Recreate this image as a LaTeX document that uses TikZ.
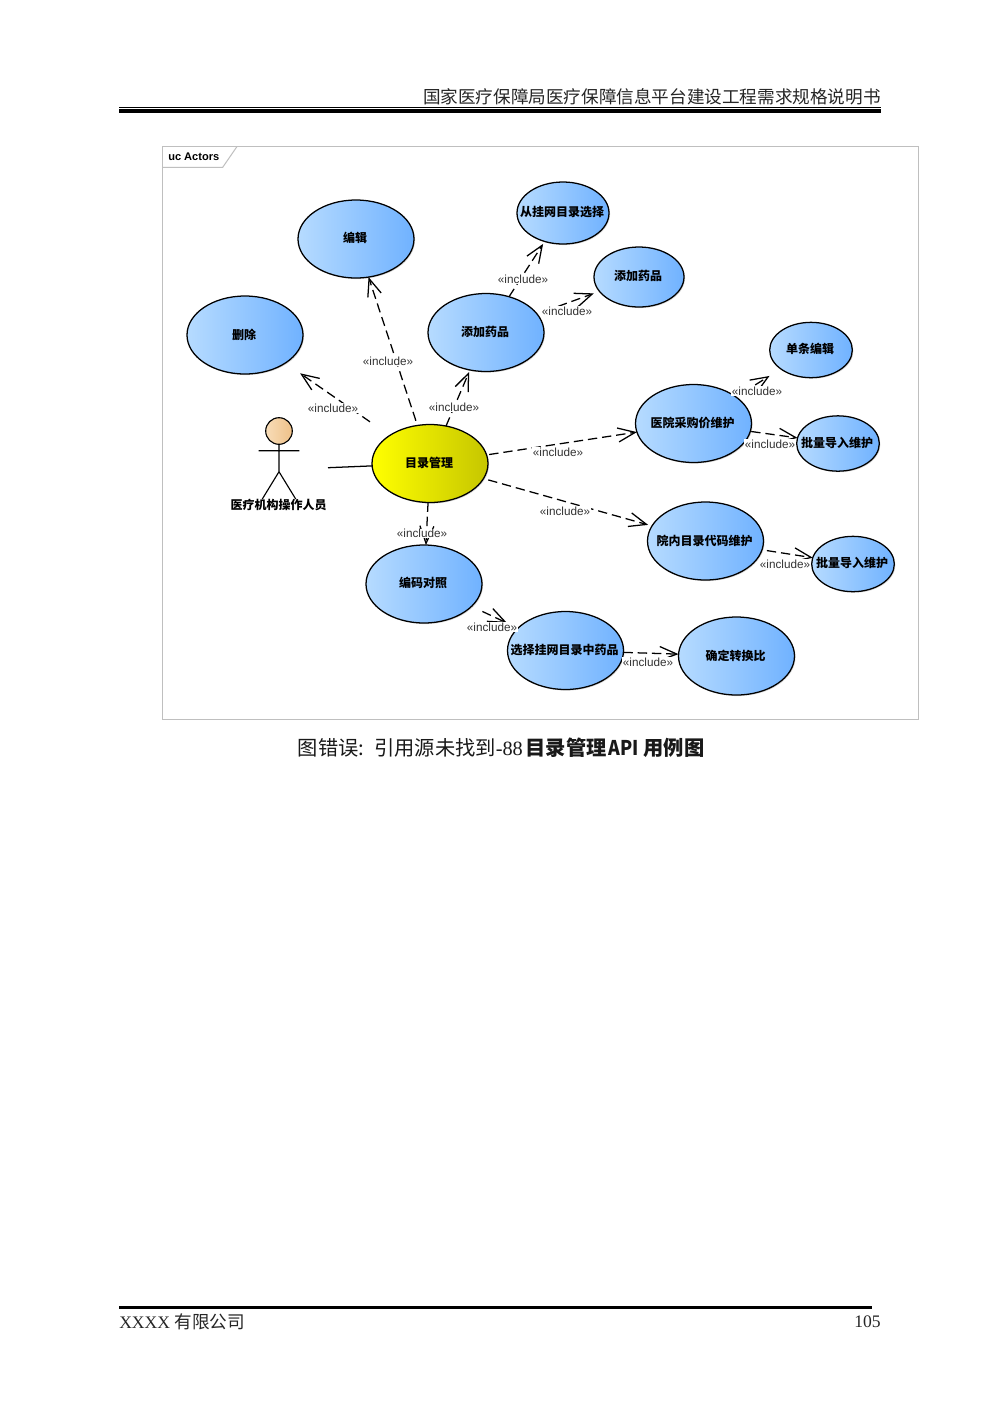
\documentclass[tikz,border=0pt]{standalone}
\usepackage{graphicx}
\usepackage{fontspec}
\setmainfont{Liberation Serif}
\setsansfont{Liberation Sans}
\newfontfamily\cjk{Noto Sans CJK SC}
\usetikzlibrary{shapes.geometric,arrows.meta,shadows}
\newcommand{\ut}[1]{\makebox[0pt]{\hspace{-1.2pt}\raisebox{1.8pt}{#1}}}
\definecolor{ucleft}{HTML}{B6DBFF}
\definecolor{ucright}{HTML}{70B2FF}
\definecolor{yleft}{HTML}{FFFF00}
\definecolor{yright}{HTML}{C6C600}
\definecolor{actorleft}{HTML}{F8DDB8}
\definecolor{actorright}{HTML}{EEC088}
\tikzset{
  x=.75pt,y=-.75pt,
  usecase/.style={ellipse,draw=black,line width=.95pt,inner sep=0pt,outer sep=0pt,
    minimum width=87pt,minimum height=58.5pt,left color=#1,
    drop shadow={shadow xshift=.8pt,shadow yshift=-.8pt,opacity=.3},
    font=\cjk\bfseries\fontsize{9}{11}\selectfont},
  bluecase/.style={usecase=ucleft,right color=ucright},
  yellowcase/.style={usecase=yleft,right color=yright},
  smallcase/.style={bluecase,minimum width=62pt,minimum height=41.5pt},
  midcase/.style={bluecase,minimum width=68pt,minimum height=45.5pt},
  inc/.style={draw=black,line width=.95pt,dash pattern=on 7pt off 3.7pt,
    -{Straight Barb[length=13pt,width=10.5pt,line width=.95pt]}},
  inclabel/.style={fill=white,inner sep=.4pt,text=black!80,
    font=\sffamily\fontsize{8.8}{10}\selectfont},
  actorline/.style={draw=black,line width=.85pt},
  rulegray/.style={draw=black!25,line width=.75pt}
}
\begin{document}
\begin{tikzpicture}
\useasboundingbox (0,0) rectangle (1000,1415);
\fill[white] (0,0) rectangle (1000,1415);
% page header
\node[anchor=east,inner sep=0pt,font=\cjk\fontsize{13.2}{15}\selectfont,text=black!85] (head) at (881,96.8) {国家医疗保障局医疗保障信息平台建设工程需求规格说明书};
\fill[black] (119,106.5) rectangle (881,107.5);
\fill[black] (119,108.8) rectangle (881,113.2);
% frame
\draw[rulegray] (162.5,146.5) rectangle (918,719);
\draw[rulegray] (162.5,167.3) -- (222.7,167.3) -- (237,146.5);
\node[anchor=west,inner sep=0pt,font=\sffamily\bfseries\fontsize{8.3}{10}\selectfont] (frame) at (168,156.5) {uc Actors};
% use cases
\node[bluecase] (edit) at (356,239) {\ut{编辑}};
\node[bluecase] (del) at (245,335) {\ut{删除}};
\node[bluecase] (add) at (486,332.5) {\ut{添加药品}};
\node[midcase,minimum width=69pt,minimum height=46.5pt] (pick) at (563,213) {\ut{从挂网目录选择}};
\node[midcase,minimum width=67.5pt,minimum height=45pt] (addb) at (639,277) {\ut{添加药品}};
\node[smallcase] (single) at (811,350) {\ut{单条编辑}};
\node[bluecase] (hosp) at (693.5,423.5) {\ut{医院采购价维护}};
\node[smallcase] (bulka) at (838,443.5) {\ut{批量导入维护}};
\node[bluecase] (inner) at (705.5,541) {\ut{院内目录代码维护}};
\node[smallcase] (bulkb) at (853,564) {\ut{批量导入维护}};
\node[bluecase] (code) at (424,584) {\ut{编码对照}};
\node[bluecase] (select) at (565.5,650.5) {\ut{选择挂网目录中药品}};
\node[bluecase] (conf) at (736.5,656) {\ut{确定转换比}};
\node[yellowcase] (mgmt) at (430,463.5) {\ut{目录管理}};
% actor
\draw[actorline,left color=actorleft,right color=actorright] (279,431) circle (13.3);
\draw[actorline] (279,444.3) -- (279,471.7) (258.7,450.7) -- (299.3,450.7)
  (262.3,499) -- (279,471.7) -- (295.7,499);
\node[inner sep=0pt,font=\cjk\bfseries\fontsize{9}{11}\selectfont] (actor) at (278.5,505) {医疗机构操作人员};
\coordinate (actorend) at (328,467.7);
\draw[line width=.95pt] (actorend) -- (mgmt);
% includes
\draw[inc,shorten <=18pt,shorten >=13.5pt] (mgmt) -- (del);
\draw[inc,shorten <=3.7pt] (mgmt) -- (edit);
\draw[inc,shorten >=1.5pt] (mgmt) -- (add);
\draw[inc,shorten >=2.2pt] (add) -- (pick);
\draw[inc,shorten <=6pt,shorten >=4.5pt] (add) -- (addb);
\draw[inc,shorten <=2pt] (mgmt) -- (hosp);
\draw[inc,shorten <=3.7pt,shorten >=3pt] (mgmt) -- (inner);
\draw[inc,shorten <=17pt,shorten >=10pt] (hosp) -- (single);
\draw[inc,shorten <=.7pt] (hosp) -- (bulka);
\draw[inc,shorten <=3.7pt] (inner) -- (bulkb);
\draw[inc] (mgmt) -- (code);
\draw[inc,shorten <=9pt,shorten >=9pt] (code) -- (select);
\draw[inc] (select) -- (conf);
% include labels
\node[inclabel] (ldel) at (333,408) {«include»};
\node[inclabel] (ledit) at (388,361) {«include»};
\node[inclabel] (ladd) at (454,407) {«include»};
\node[inclabel] (lpick) at (523,279) {«include»};
\node[inclabel] (laddb) at (567,311) {«include»};
\node[inclabel] (lsingle) at (757,391) {«include»};
\node[inclabel] (lbulka) at (770,444) {«include»};
\node[inclabel] (lhosp) at (558,452) {«include»};
\node[inclabel] (linner) at (565,511) {«include»};
\node[inclabel] (lbulkb) at (785,564) {«include»};
\node[inclabel] (lcode) at (422,533.5) {«include»};
\node[inclabel] (lselect) at (492,627) {«include»};
\node[inclabel] (lconf) at (648,662) {«include»};
% caption
\node[anchor=west,inner sep=0pt,font=\cjk\fontsize{15.2}{18}\selectfont,text=black!90] (cap) at (297.5,748)
  {图错误:\hspace{3pt} 引用源未找到{\rmfamily -88}\hspace{2pt}{\bfseries 目录管理\hspace{1.5pt}\scalebox{.88}[1]{API}\hspace{3.5pt}用例图}};
% footer
\fill[black] (119,1305.5) rectangle (872,1308.5);
\node[anchor=west,inner sep=0pt,font=\fontsize{13.2}{15}\selectfont,text=black!85] (foot) at (119,1322) {XXXX {\cjk 有限公司}};
\node[anchor=east,inner sep=0pt,font=\fontsize{13.2}{15}\selectfont,text=black!85] (page) at (881,1322) {105};
\end{tikzpicture}
\end{document}
